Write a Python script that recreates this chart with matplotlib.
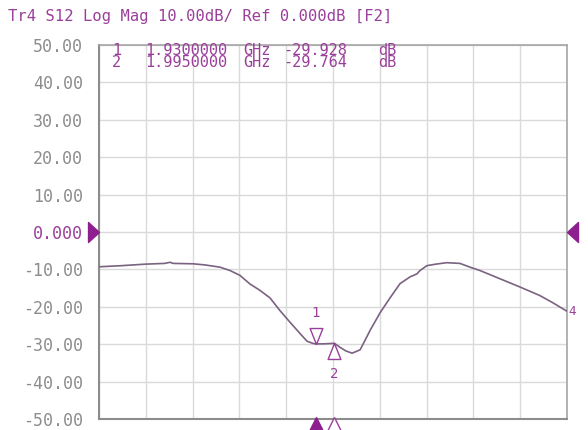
import matplotlib
matplotlib.use("Agg")
import matplotlib.pyplot as plt
import numpy as np
from matplotlib.path import Path
from matplotlib.transforms import blended_transform_factory

# ---------------- data ----------------
freq_ghz = [1.170, 1.250, 1.331, 1.400, 1.419, 1.430, 1.499, 1.541, 1.594, 1.629,
            1.664, 1.699, 1.734, 1.769, 1.804, 1.839, 1.874, 1.899, 1.920, 1.930,
            1.960, 1.995, 2.014, 2.035, 2.057, 2.085, 2.102, 2.120, 2.155, 2.190,
            2.225, 2.260, 2.284, 2.295, 2.319, 2.350, 2.389, 2.435, 2.470, 2.505,
            2.575, 2.645, 2.715, 2.760, 2.810]
s12_db = [-9.3, -9.0, -8.6, -8.4, -8.1, -8.4, -8.5, -8.8, -9.4, -10.3,
          -11.6, -13.9, -15.6, -17.6, -21.0, -24.1, -27.1, -29.2, -29.8, -29.928,
          -29.9, -29.764, -30.8, -31.8, -32.4, -31.5, -29.0, -26.3, -21.6, -17.6,
          -13.8, -12.0, -11.2, -10.3, -9.0, -8.6, -8.2, -8.4, -9.4, -10.3,
          -12.5, -14.7, -17.0, -18.9, -21.2]

marker_ids = ["1", "2"]
marker_freq = [1.930, 1.995]
marker_val = [-29.928, -29.764]
marker_freq_txt = ["1.9300000", "1.9950000"]
marker_val_txt = ["-29.928", "-29.764"]

y_ticks = [50, 40, 30, 20, 10, 0, -10, -20, -30, -40, -50]
y_tick_labels = ["50.00", "40.00", "30.00", "20.00", "10.00", "0.000",
                 "-10.00", "-20.00", "-30.00", "-40.00", "-50.00"]
f_start, f_stop = 1.17, 2.81
title_text = "Tr4 S12 Log Mag 10.00dB/ Ref 0.000dB [F2]"

# ---------------- style ----------------
PURPLE = "#8e1f8e"
TXT_PURPLE = "#9a3f9a"
TRACE = "#7a6280"
GRID = "#dadada"
TICK_GRAY = "#8d8d8d"
MONO = "DejaVu Sans Mono"

W, H = 588, 430
fig = plt.figure(figsize=(W / 100, H / 100), dpi=100)
L, R, T, B = 99, 567, 45, 419
ax = fig.add_axes([L / W, (H - B) / H, (R - L) / W, (B - T) / H])

ax.set_xlim(f_start, f_stop)
ax.set_ylim(-50, 50)
ax.set_xticks(np.linspace(f_start, f_stop, 11))
ax.set_yticks(y_ticks)
ax.set_yticklabels(y_tick_labels, family=MONO, fontsize=12)
for lab, v in zip(ax.get_yticklabels(), y_ticks):
    lab.set_color(TXT_PURPLE if v == 0 else TICK_GRAY)
ax.tick_params(axis="y", length=0, pad=11.5)
ax.tick_params(axis="x", length=0, labelbottom=False)
ax.grid(True, color=GRID, linewidth=1.0)
ax.set_axisbelow(True)
for side, sp in ax.spines.items():
    if side in ("left", "bottom"):
        sp.set_color("#8c8c8c"); sp.set_linewidth(1.5)
    else:
        sp.set_color("#a5a5a5"); sp.set_linewidth(1.2)

# trace
ax.plot(freq_ghz, s12_db, color=TRACE, linewidth=1.2, zorder=3)

# on-trace markers
down_tri = Path([(0, 0), (-0.4, 1), (0.4, 1), (0, 0)],
                [Path.MOVETO, Path.LINETO, Path.LINETO, Path.CLOSEPOLY])
up_tri = Path([(0, 0), (-0.4, -1), (0.4, -1), (0, 0)],
              [Path.MOVETO, Path.LINETO, Path.LINETO, Path.CLOSEPOLY])
for i, (mid, f, v) in enumerate(zip(marker_ids, marker_freq, marker_val)):
    if i == 0:
        ax.plot([f], [v], marker=down_tri, markersize=23, markerfacecolor="white",
                markeredgecolor=TXT_PURPLE, markeredgewidth=1.0, zorder=4)
        ax.annotate(mid, (f, v), xytext=(0, 17), textcoords="offset points",
                    ha="center", va="bottom", color=TXT_PURPLE, family=MONO, fontsize=10)
    else:
        ax.plot([f], [v], marker=up_tri, markersize=23, markerfacecolor="white",
                markeredgecolor=TXT_PURPLE, markeredgewidth=1.0, zorder=4)
        ax.annotate(mid, (f, v), xytext=(0, -17), textcoords="offset points",
                    ha="center", va="top", color=TXT_PURPLE, family=MONO, fontsize=10)

# bottom stimulus markers (below axis)
btr = blended_transform_factory(ax.transData, ax.transAxes)
ax.plot([marker_freq[0]], [-0.022], marker="^", markersize=14, color=PURPLE,
        transform=btr, clip_on=False, zorder=5)
ax.plot([marker_freq[1]], [-0.022], marker="^", markersize=14, markerfacecolor="white",
        markeredgecolor=TXT_PURPLE, markeredgewidth=1.0, transform=btr, clip_on=False, zorder=5)

# reference-level arrows at 0 dB
right_tri = Path([(0, 0), (-1.1, 1), (-1.1, -1), (0, 0)],
                 [Path.MOVETO, Path.LINETO, Path.LINETO, Path.CLOSEPOLY])
left_tri = Path([(0, 0), (1.1, 1), (1.1, -1), (0, 0)],
                [Path.MOVETO, Path.LINETO, Path.LINETO, Path.CLOSEPOLY])
rtr = blended_transform_factory(ax.transAxes, ax.transData)
ax.plot([0.0], [0], marker=right_tri, markersize=15.8, color=PURPLE, transform=rtr,
        clip_on=False, zorder=5)
ax.plot([1.0], [0], marker=left_tri, markersize=15.8, color=PURPLE, transform=rtr,
        clip_on=False, zorder=5)

# trace number at end
ax.text(1.004, s12_db[-1], "4", transform=rtr, color=TXT_PURPLE, family=MONO,
        fontsize=9, ha="left", va="center", clip_on=False)

# marker readout table (one two-line text per column)
cols_x = [112, 145, 243, 283, 378]
col_texts = [
    "\n".join(marker_ids),
    "\n".join(marker_freq_txt),
    "\n".join(["GHz"] * len(marker_ids)),
    "\n".join(marker_val_txt),
    "\n".join(["dB"] * len(marker_ids)),
]
for cx, txt in zip(cols_x, col_texts):
    fig.text(cx / W, 1 - 56.5 / H, txt, color=TXT_PURPLE, family=MONO, fontsize=11,
             va="center", ha="left", linespacing=0.74)

# title
fig.text(8 / W, 1 - 16 / H, title_text, color=TXT_PURPLE, family=MONO, fontsize=11.2,
         va="center", ha="left")

fig.savefig("out.png", dpi=100)
